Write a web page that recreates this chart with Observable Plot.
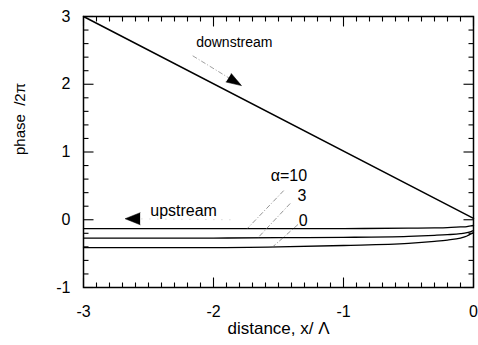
<!DOCTYPE html>
<html>
<head>
<meta charset="utf-8">
<script src="https://cdn.jsdelivr.net/npm/d3@7"></script>
<script src="https://cdn.jsdelivr.net/npm/@observablehq/plot@0.6"></script>
<style>
  html, body { margin: 0; padding: 0; background: #fff; }
</style>
</head>
<body>
<div id="chart"></div>
<script>
// ---- data ----
const xMajorTicks = [-3, -2, -1, 0];
const yMajorTicks = [-1, 0, 1, 2, 3];

// downstream phase (straight line)
const downX = [-3, 0];
const downY = [3, 0.02];

// upstream phase for several alpha values
const upX      = [-3, -2, -1.5, -1, -0.5, -0.3, -0.2, -0.1, -0.05, -0.02, 0];
const alpha0   = [-0.41, -0.41, -0.40, -0.38, -0.35, -0.32, -0.30, -0.27, -0.24, -0.21, -0.19];
const alpha3   = [-0.27, -0.27, -0.265, -0.26, -0.245, -0.23, -0.22, -0.205, -0.19, -0.175, -0.16];
const alpha10  = [-0.13, -0.13, -0.13, -0.13, -0.125, -0.12, -0.115, -0.105, -0.10, -0.09, -0.085];

// labels
const alphaLabels = ["α=10", "3", "0"];
const alphaLabelX = [-1.42, -1.32, -1.31];
const alphaLabelY = [0.65, 0.35, -0.01];
// leader lines (label -> curve)
const leaderX1 = [-1.46, -1.41, -1.35];
const leaderY1 = [0.43, 0.24, -0.07];
const leaderX2 = [-1.74, -1.66, -1.55];
const leaderY2 = [-0.13, -0.27, -0.41];

const downLabel = "downstream";
const downLabelX = -1.84, downLabelY = 2.62;
const downArrowX = [-2.16, -1.785], downArrowY = [2.42, 1.98];

const upLabel = "upstream";
const upLabelX = -2.23, upLabelY = 0.13;
const upArrowX = [-1.87, -2.68], upArrowY = [0.0, 0.015];

// ---- build ----
const W = 478, H = 345;
const mL = 83, mR = 5, mT = 16, mB = 58;
const innerW = W - mL - mR, innerH = H - mT - mB;
const xPerPx = 3 / innerW, yPerPx = 4 / innerH;

const xMinor = d3.range(-3, 0.0001, 0.1).map(v => +v.toFixed(2));
const yMinor = d3.range(-1, 3.0001, 0.2).map(v => +v.toFixed(2));

// inward tick segments on all four sides
const tickSegs = [];
for (const v of xMinor) {
  const len = xMajorTicks.includes(v) ? 10 : 5;
  tickSegs.push({x1: v, y1: -1, x2: v, y2: -1 + len * yPerPx});
  tickSegs.push({x1: v, y1: 3, x2: v, y2: 3 - len * yPerPx});
}
for (const v of yMinor) {
  const len = yMajorTicks.includes(v) ? 10 : 5;
  tickSegs.push({x1: -3, y1: v, x2: -3 + len * xPerPx, y2: v});
  tickSegs.push({x1: 0, y1: v, x2: -len * xPerPx, y2: v});
}

const series = [
  {name: "0", y: alpha0},
  {name: "3", y: alpha3},
  {name: "10", y: alpha10}
];
const curveRows = series.flatMap(s => upX.map((x, i) => ({x, y: s.y[i], s: s.name})));
const downRows = downX.map((x, i) => ({x, y: downY[i]}));
const leaders = alphaLabels.map((t, i) => ({x1: leaderX1[i], y1: leaderY1[i], x2: leaderX2[i], y2: leaderY2[i]}));
const labels = alphaLabels.map((t, i) => ({t, x: alphaLabelX[i], y: alphaLabelY[i]}));

const chart = Plot.plot({
  width: W, height: H,
  marginLeft: mL, marginRight: mR, marginTop: mT, marginBottom: mB,
  style: {fontFamily: "'Liberation Sans', Arial, Helvetica, sans-serif", fontSize: "16px", background: "#fff", color: "black"},
  x: {domain: [-3, 0]},
  y: {domain: [-1, 3]},
  marks: [
    Plot.link(tickSegs, {x1: "x1", y1: "y1", x2: "x2", y2: "y2", stroke: "black", strokeWidth: 1.1}),
    Plot.frame({stroke: "black", strokeWidth: 1.5, fill: "none"}),
    // axes (labels only)
    Plot.axisX({ticks: xMajorTicks, tickSize: 0, tickPadding: 18, label: null, fontSize: 16, tickFormat: d => String(d)}),
    Plot.axisY({ticks: yMajorTicks, tickSize: 0, tickPadding: 13, label: null, fontSize: 16, tickFormat: d => String(d)}),
    Plot.text(["distance, x/ Λ"], {frameAnchor: "bottom", dy: 46, text: d => d, fontSize: 17}),
    Plot.text(["phase  /2π"], {frameAnchor: "left", dx: -63, dy: 3, rotate: -90, text: d => d, fontSize: 15}),
    // data lines
    Plot.line(downRows, {x: "x", y: "y", stroke: "black", strokeWidth: 1.5}),
    Plot.line(curveRows, {x: "x", y: "y", z: "s", stroke: "black", strokeWidth: 1.3, curve: "monotone-x"}),
    // leader lines
    Plot.link(leaders, {x1: "x1", y1: "y1", x2: "x2", y2: "y2", stroke: "#666", strokeWidth: 0.7, strokeDasharray: "5,2,1,2"}),
    Plot.text(labels, {x: "x", y: "y", text: "t", fontSize: 16}),
    // downstream annotation
    Plot.text([downLabel], {x: () => downLabelX, y: () => downLabelY, text: d => d, fontSize: 14}),
    Plot.link([0], {x1: () => downArrowX[0], y1: () => downArrowY[0], x2: () => downArrowX[1], y2: () => downArrowY[1], stroke: "#888", strokeWidth: 0.8, strokeDasharray: "5,2,1,2"}),
    Plot.vector([0], {x: () => downArrowX[1], y: () => downArrowY[1], length: 15, rotate: 121.5, anchor: "end", shape: "spike", r: 5, fill: "black", stroke: "black", strokeWidth: 0.5}),
    // upstream annotation
    Plot.text([upLabel], {x: () => upLabelX, y: () => upLabelY, text: d => d, fontSize: 16}),
    Plot.link([0], {x1: () => upArrowX[0], y1: () => upArrowY[0], x2: () => upArrowX[1], y2: () => upArrowY[1], stroke: "#bbb", strokeWidth: 0.8, strokeDasharray: "1,7"}),
    Plot.vector([0], {x: () => upArrowX[1], y: () => upArrowY[1], length: 15, rotate: -90, anchor: "end", shape: "spike", r: 6, fill: "black", stroke: "black", strokeWidth: 0.5})
  ]
});
document.getElementById("chart").appendChild(chart);
</script>
</body>
</html>
